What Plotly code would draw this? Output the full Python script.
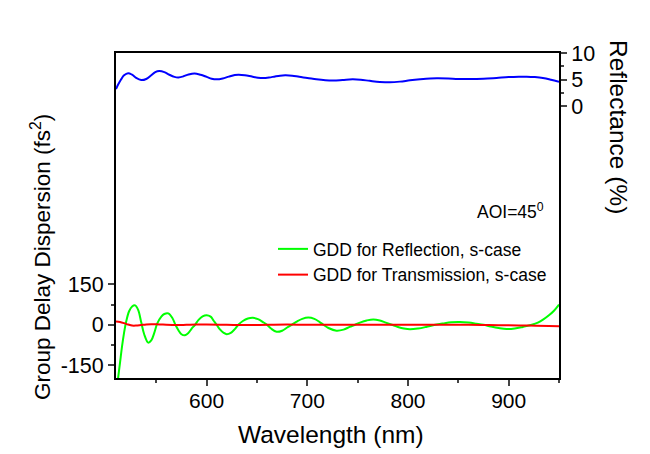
import plotly.graph_objects as go

# Reflectance (right axis), %
refl_wl = [510, 512, 515, 518, 522, 526, 530, 535, 540, 545, 549, 553, 558, 563, 568, 572,
           577, 582, 588, 594, 600, 605, 610, 616, 622, 628, 632, 638, 645, 651, 656, 662,
           668, 673, 678, 685, 692, 700, 709, 718, 726, 735, 745, 753, 762, 772, 782, 792,
           802, 812, 822, 830, 840, 850, 862, 875, 888, 900, 910, 918, 926, 934, 942, 950]
refl_val = [3.2, 4.0, 5.0, 5.8, 6.2, 5.9, 5.3, 4.9, 5.1, 5.8, 6.4, 6.6, 6.4, 5.9, 5.5, 5.4,
            5.6, 5.95, 6.15, 5.9, 5.5, 5.15, 5.03, 5.2, 5.55, 5.85, 5.9, 5.8, 5.55, 5.35, 5.28, 5.38,
            5.58, 5.72, 5.78, 5.72, 5.5, 5.3, 5.03, 4.85, 4.8, 4.9, 5.03, 4.95, 4.75, 4.55, 4.47, 4.6,
            4.85, 5.05, 5.2, 5.22, 5.18, 5.1, 5.08, 5.15, 5.3, 5.45, 5.52, 5.53, 5.45, 5.28, 4.95, 4.55]

# GDD for reflection (fs^2)
gddr_wl = [510, 512, 514, 516, 518, 520, 523, 526, 529, 532, 535, 538, 542, 545, 548, 551,
           555, 558, 562, 566, 569, 572, 575, 578.5, 582, 585, 588.5, 592, 596, 600, 604, 607,
           610, 613, 617, 620, 624, 628, 631.5, 636, 641, 646, 651, 656, 660, 664, 669.5, 675,
           680, 684.5, 690, 695, 701, 707, 712, 716, 721, 729, 736, 742, 747.4, 753, 759, 765.6,
           772, 778, 784, 790, 796, 802, 810, 818, 827, 835, 843, 851.7, 860, 868, 875, 882,
           890, 898, 906, 914, 923, 929, 934.5, 940, 945, 950]
gddr_val = [-260, -200, -140, -80, -30, 10, 50, 68, 72, 55, 10, -35, -66, -58, -30, 5,
            30, 40, 42, 25, 0, -20, -35, -39, -30, -15, 0, 18, 31, 35.5, 30, 15,
            0, -16, -30, -35, -30, -16, 0, 14, 23, 25.6, 21, 10, 0, -14, -26, -22,
            -10, 0, 13, 22, 26.6, 22, 11, 0, -12, -22, -18, -8, 0, 9, 16, 20,
            16, 8, 0, -8, -14, -17, -14, -8, 0, 5, 9, 10, 8, 4, 0, -6,
            -12, -16, -14, -8, 0, 8, 20, 35, 52, 75]

# GDD for transmission (fs^2)
gddt_wl = [510, 514, 518, 522, 526, 530, 535, 540, 545, 550, 555, 560, 570, 580, 590, 600,
           620, 640, 660, 680, 700, 720, 740, 760, 780, 800, 820, 840, 860, 880, 900, 920, 940, 950]
gddt_val = [12, 10, 6, 1, -3, -3, -1, 1, 2, 2, 1, 0, -1, 0, 1, 1,
            0, -1, 0, 1, 0, 0, 0.5, 0, 0, 0.5, 0, 0, 0, -1, -2, -3, -4.5, -5]

x_ticks = [600, 700, 800, 900]
x_minor = [550, 650, 750, 850, 950]
gdd_ticks = [-150, 0, 150]
gdd_ticktext = ["-150", "0", "150"]
gdd_minor = [-75, 75]
refl_ticks = [0, 5, 10]
refl_minor = [2.5, 7.5]

FONT = "Liberation Sans, Arial, sans-serif"

fig = go.Figure()
fig.add_trace(go.Scatter(x=gddr_wl, y=gddr_val, mode="lines", line=dict(color="#00ff00", width=2, shape="spline"),
                         name="GDD for Reflection, s-case", yaxis="y"))
fig.add_trace(go.Scatter(x=gddt_wl, y=gddt_val, mode="lines", line=dict(color="#ff0000", width=2, shape="spline"),
                         name="GDD for Transmission, s-case", yaxis="y"))
fig.add_trace(go.Scatter(x=refl_wl, y=refl_val, mode="lines", line=dict(color="#0000ff", width=2, shape="spline"),
                         name="Reflectance", yaxis="y2", showlegend=False))

OFF = 8  # page body margin
W, H = 650, 454
# desired plot area on screen: x 116..559, y 53..378
L, T = 116 - OFF, 53 - OFF
R = W - (559 - OFF)
B = H - (378 - OFF)
pw, ph = W - L - R, H - T - B

def px(xs):
    return (xs - OFF - L) / pw

def py(ys):
    return (H - B - (ys - OFF)) / ph

fig.update_layout(
    width=W, height=H,
    margin=dict(l=L, r=R, t=T, b=B),
    plot_bgcolor="white", paper_bgcolor="white",
    font=dict(family=FONT, size=18, color="black"),
    xaxis=dict(range=[510, 950], tickvals=x_ticks, ticks="outside", ticklen=6, tickwidth=1.5,
               showline=True, linecolor="black", linewidth=2, mirror=True, showgrid=False, zeroline=False,
               tickfont=dict(size=21), ticklabelstandoff=-3,
               minor=dict(tickmode="array", tickvals=x_minor, ticks="outside", ticklen=3, tickwidth=1.5)),
    yaxis=dict(range=[-197, 1006], tickvals=gdd_ticks, ticktext=gdd_ticktext, ticks="outside", ticklen=6,
               tickwidth=1.5, showline=True, linecolor="black", linewidth=2, showgrid=False, zeroline=False,
               tickfont=dict(size=21.5),
               minor=dict(tickmode="array", tickvals=gdd_minor, ticks="outside", ticklen=3, tickwidth=1.5)),
    yaxis2=dict(range=[-51.3, 10], tickvals=refl_ticks, ticks="outside", ticklen=6, tickwidth=1.5,
                overlaying="y", side="right", showline=True, linecolor="black", linewidth=2,
                showgrid=False, zeroline=False, tickfont=dict(size=21.5),
                minor=dict(tickmode="array", tickvals=refl_minor, ticks="outside", ticklen=3, tickwidth=1.5)),
    legend=dict(x=px(273), y=py(231), xanchor="left", yanchor="top", bgcolor="rgba(0,0,0,0)",
                font=dict(size=17.5), tracegroupgap=0, itemwidth=30),
    showlegend=True,
    annotations=[
        dict(text="Wavelength (nm)", x=px(331), y=py(434), xref="paper", yref="paper", showarrow=False,
             font=dict(size=24.5), xanchor="center", yanchor="middle"),
        dict(text="Group Delay Dispersion (fs<sup>2</sup>)", x=px(41), y=py(257), xref="paper", yref="paper",
             showarrow=False, textangle=-90, font=dict(size=22.5), xanchor="center", yanchor="middle"),
        dict(text="Reflectance (%)", x=px(618), y=py(127), xref="paper", yref="paper",
             showarrow=False, textangle=90, font=dict(size=24.5), xanchor="center", yanchor="middle"),
        dict(text="AOI=45<sup>0</sup>", x=px(510), y=py(211), xref="paper", yref="paper",
             showarrow=False, font=dict(size=17.5), xanchor="center", yanchor="middle"),
    ],
)

fig.write_html("out.html")
